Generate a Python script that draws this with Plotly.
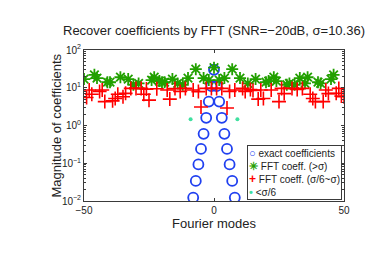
import numpy as np
import plotly.graph_objects as go

# ---- data ----
sigma = 10.36
modes = list(range(-50, 51))
fft_mag = [
    17, 5.5, 8.7, 6.7, 22, 18, 8.0, 8.7, 4.3, 14,      # -50..-41
    14, 4.5, 5.2, 6.7, 19, 5.8, 7.1, 17, 9.6, 12,      # -40..-31
    9.6, 13, 9.6, 6.7, 9.2, 4.7, 16, 19, 9.4, 15,      # -30..-21
    14, 14, 8.7, 5.0, 17, 9.5, 13, 8.0, 12, 9.6,       # -20..-11
    18, 1.46, 8.7, 31, 7.9, 3.1, 18, 9.6, 16, 9.6,     # -10..-1
    34,                                                # 0
    9.6, 16, 9.6, 18, 2.9, 8.0, 31, 8.7, 1.46, 18,     # 1..10
    9.6, 8.0, 13, 9.0, 8.5, 17, 5.0, 8.7, 5.2, 14,     # 11..20
    15, 8.7, 19, 15, 4.3, 9.6, 7.0, 12, 13, 9.6,       # 21..30
    12, 9.0, 18, 9.6, 13, 19, 6.7, 5.2, 4.3, 14,       # 31..40
    13, 4.3, 8.7, 7.0, 17, 22, 7.1, 9.6, 6.0, 5.8,     # 41..50
]
exact_modes = list(range(-8, 9))
exact_mag = [0.0123, 0.034, 0.093, 0.24, 0.6, 1.6, 4.3, 11, 30,
             11, 4.3, 1.6, 0.6, 0.24, 0.093, 0.034, 0.0123]

title_text = "Recover coefficients by FFT (SNR=\u221220dB, \u03c3=10.36)"
x_title = "Fourier modes"
y_title = "Magnitude of coefficients"
legend_names = ["exact coefficients", "FFT coeff. (&gt;\u03c3)",
                "FFT coeff. (\u03c3/6~\u03c3)", "&lt;\u03c3/6"]
y_tickvals = [0.01, 0.1, 1, 10, 100]
y_ticktext = ["10<sup>\u22122</sup>", "10<sup>\u22121</sup>", "10<sup>0</sup>",
              "10<sup>1</sup>", "10<sup>2</sup>"]
x_tickvals = [-50, 0, 50]
x_ticktext = ["\u221250", "0", "50"]

# ---- split by thresholds ----
m = np.array(modes)
v = np.array(fft_mag, dtype=float)
hi = v > sigma
mid = (v <= sigma) & (v >= sigma / 6)
lo = v < sigma / 6

FONT = "Liberation Sans, Arial, Helvetica, sans-serif"
AX = "#3a3a3a"
C_EXACT, C_HI, C_MID, C_LO = "#2040f0", "#22a000", "#ff0000", "#40e0a0"

fig = go.Figure()
fig.add_trace(go.Scatter(
    x=exact_modes, y=exact_mag, mode="markers", name=legend_names[0],
    marker=dict(symbol="circle-open", size=10, color=C_EXACT,
                line=dict(width=1.8, color=C_EXACT))))
fig.add_trace(go.Scatter(
    x=m[hi], y=v[hi], mode="markers", name=legend_names[1],
    marker=dict(symbol="asterisk-open", size=10, color=C_HI,
                line=dict(width=1.8, color=C_HI))))
fig.add_trace(go.Scatter(
    x=m[mid], y=v[mid], mode="markers", name=legend_names[2],
    marker=dict(symbol="cross-thin-open", size=10, color=C_MID,
                line=dict(width=1.6, color=C_MID))))
fig.add_trace(go.Scatter(
    x=m[lo], y=v[lo], mode="markers", name=legend_names[3],
    marker=dict(symbol="circle", size=4, color=C_LO)))

minor_vals = [k * 10.0 ** e for e in range(-2, 2) for k in range(2, 10)]

# compact MATLAB-like legend box (text annotation)
glyphs = [("<b>\u25cb</b>", C_EXACT, 11), ("<b>\u2733</b>", C_HI, 11),
          ("<b>+</b>", C_MID, 12), ("<b>\u2022</b>", C_LO, 11)]
legend_text = "<br>".join(
    f"<span style='color:{c};font-size:{s}px'>{g}</span> {n}"
    for (g, c, s), n in zip(glyphs, legend_names))

fig.update_layout(
    width=382, height=268,
    margin=dict(l=84, r=38, t=50, b=67, autoexpand=False),
    paper_bgcolor="white", plot_bgcolor="white",
    font=dict(family=FONT, size=10, color="#222"),
    title=dict(text=title_text, x=0.5, xref="paper", xanchor="center",
               y=1 - 30 / 268, yref="container", yanchor="middle",
               font=dict(size=13, color="#222")),
    showlegend=False,
    annotations=[
        dict(text=legend_text, xref="paper", yref="paper", x=0.993, y=0.005,
             xanchor="right", yanchor="bottom", align="left", showarrow=False,
             bgcolor="white", bordercolor=AX, borderwidth=1, borderpad=1,
             font=dict(family=FONT, size=10, color="#222")),
        dict(text=y_title, xref="paper", yref="paper", x=-0.104, y=0.5,
             xanchor="center", yanchor="middle", textangle=-90, showarrow=False,
             font=dict(family=FONT, size=13, color="#222")),
    ],
)
fig.update_xaxes(
    range=[-50, 50], tickvals=x_tickvals, ticktext=x_ticktext,
    ticks="inside", ticklen=3, tickcolor=AX, showline=True, linecolor=AX,
    linewidth=1, mirror="ticks", showgrid=False, zeroline=False,
    title=dict(text=x_title, font=dict(size=13, color="#222"), standoff=0),
    tickfont=dict(size=10))
fig.update_yaxes(
    type="log", range=[-2, 2], tickvals=y_tickvals, ticktext=y_ticktext,
    ticks="inside", ticklen=3, tickcolor=AX, showline=True, linecolor=AX,
    linewidth=1, mirror="ticks", showgrid=False, zeroline=False,
    minor=dict(tickvals=minor_vals, ticks="inside", ticklen=2, tickcolor=AX),
    tickfont=dict(size=10))

fig.write_html("out.html", config={"displayModeBar": False},
               post_script="document.body.style.margin='0';")
